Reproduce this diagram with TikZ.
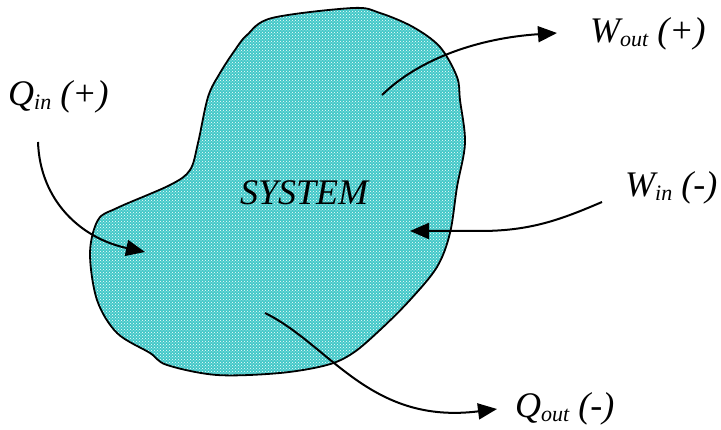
\documentclass[tikz,border=0pt]{standalone}
\usepackage{fontspec}
\setmainfont{Liberation Serif}
\usetikzlibrary{arrows.meta,patterns}

\definecolor{sysfill}{RGB}{66,200,200}
\newcommand{\sub}[1]{\raisebox{-4pt}{\fontsize{22}{22}\selectfont #1}}

\begin{document}
\begin{tikzpicture}[
    x=1pt, y=-1pt,
    >={Triangle[length=19pt,width=16pt]},
    label/.style={anchor=base west, inner sep=0pt, font=\fontsize{36}{40}\selectfont\itshape},
    flow/.style={->, line width=2pt},
    boundary/.style={line width=1.8pt, preaction={fill=sysfill}, pattern=crosshatch dots, pattern color=white}
]
  \useasboundingbox (0,0) rectangle (721,430);

  % System boundary
  \draw[boundary] plot[smooth cycle, tension=0.55] coordinates {
    (353,8) (272,18) (247,35) (235,50) (220,73) (208,97) (198,143) (190,170)
    (170,185) (117,208) (98,220) (90,253) (97,300) (117,333) (150,353)
    (167,365) (217,375) (280,373) (327,365) (353,353) (380,330) (410,300)
    (437,267) (450,233) (457,187) (465,143) (460,100) (457,77) (440,47)
    (413,27) (380,13)};

  % Labels
  \node[label] (system) at (240,205) {SYSTEM};
  \node[label] (qin) at (8,106) {Q\sub{in} (+)};
  \node[label] (wout) at (590,43) {W\sub{out} (+)};
  \node[label] (win) at (625,197) {W\sub{in} (-)};
  \node[label] (qout) at (515,418) {Q\sub{out} (-)};

  % Arrow ends
  \coordinate (qin-tail) at (38,142);
  \coordinate (qin-tip) at (145,252);
  \coordinate (wout-tail) at (382,95);
  \coordinate (wout-tip) at (557,33);
  \coordinate (win-tail) at (602,202);
  \coordinate (win-tip) at (410,231);
  \coordinate (qout-tail) at (265,313);
  \coordinate (qout-tip) at (497,409);

  % Energy flows
  \draw[flow] (qin-tail) .. controls (40,200) and (80,238) .. (qin-tip);
  \draw[flow] (wout-tail) .. controls (420,58) and (480,38) .. (wout-tip);
  \draw[flow] (win-tail) .. controls (560,220) and (530,231) .. (480,231) -- (win-tip);
  \draw[flow] (qout-tail) .. controls (330,345) and (370,425) .. (qout-tip);
\end{tikzpicture}
\end{document}
